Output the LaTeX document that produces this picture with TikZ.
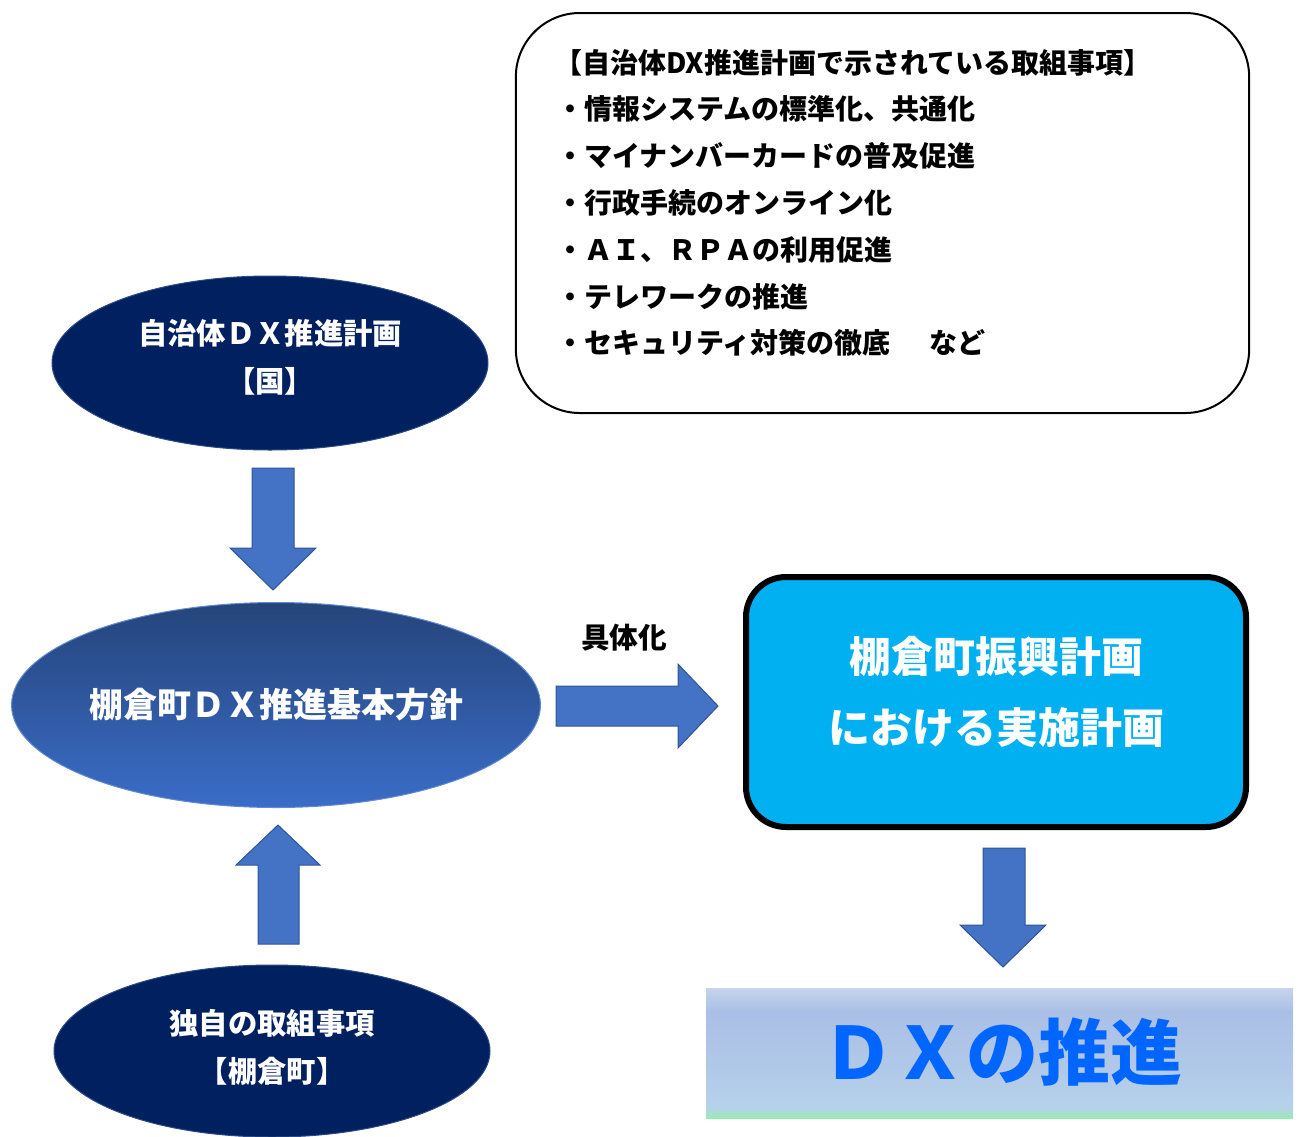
\documentclass[tikz,border=0pt]{standalone}
\usepackage{fontspec}
\newfontfamily\jp{Noto Sans CJK JP}
\usetikzlibrary{shapes.geometric}
\definecolor{navy}{HTML}{002060}
\definecolor{navyedge}{HTML}{2A4A85}
\definecolor{ellTop}{HTML}{25447A}
\definecolor{ellBot}{HTML}{3A6DC8}
\definecolor{arrowFill}{HTML}{4472C4}
\definecolor{arrowEdge}{HTML}{2F5597}
\definecolor{planCyan}{HTML}{00B0F0}
\definecolor{dxBlue}{HTML}{0066FF}
\definecolor{shTop}{HTML}{C6D4EC}
\definecolor{shUp}{HTML}{AABFE6}
\definecolor{shMid}{HTML}{B0C8E8}
\definecolor{shLow}{HTML}{B6D2EA}
\definecolor{shGreen}{HTML}{98ECB0}
\pgfdeclareverticalshading{dxshade}{100bp}{color(0bp)=(shGreen); color(25bp)=(shGreen); color(29bp)=(shLow); color(45bp)=(shMid); color(66bp)=(shUp); color(75bp)=(shTop); color(100bp)=(shTop)}
\tikzset{
  navyell/.style={ellipse, fill=navy, draw=navyedge, line width=0.75pt, inner sep=0pt},
  elltext/.style={text=white, align=center, inner sep=0pt, font=\jp\bfseries\fontsize{22}{36}\selectfont},
  blockarrow/.style={fill=arrowFill, draw=arrowEdge, line width=0.75pt},
  listline/.style={anchor=west, inner sep=0pt, font=\jp\bfseries\fontsize{21}{24}\selectfont}
}
\begin{document}
\begin{tikzpicture}[x=0.75pt,y=-0.75pt]
\useasboundingbox (0,0) rectangle (1302,1136);
% top-right list box
\node (list) [draw=black, line width=1.5pt, rounded corners=48pt, minimum width=550pt, minimum height=300pt] at (882.5,213) {};
\node[listline] (l0) at (554,63) {【自治体DX推進計画で示されている取組事項】};
\node[listline] (l1) at (556,109) {・情報システムの標準化、共通化};
\node[listline] (l2) at (556,156) {・マイナンバーカードの普及促進};
\node[listline] (l3) at (556,203) {・行政手続のオンライン化};
\node[listline] (l4) at (556,250) {・ＡＩ、ＲＰＡの利用促進};
\node[listline] (l5) at (556,297) {・テレワークの推進};
\node[listline] (l6) at (556,343) {・セキュリティ対策の徹底\hspace{1.4em}など};
% ellipses
\node[navyell, minimum width=327pt, minimum height=130.5pt] (kuni) at (270,363) {};
\node[elltext] (kunitext) at (270,357) {自治体ＤＸ推進計画\\【国】};
\node[ellipse, top color=ellTop, bottom color=ellBot, draw=ellBot!80!white, line width=0.75pt,
  minimum width=396pt, minimum height=153.75pt, inner sep=0pt, text=white,
  font=\jp\bfseries\fontsize{25.5}{30}\selectfont] (houshin) at (276,705) {棚倉町ＤＸ推進基本方針};
\node[navyell, minimum width=327pt, minimum height=129pt] (dokuji) at (272,1051) {};
\node[elltext] (dokujitext) at (272,1047) {独自の取組事項\\【棚倉町】};
% arrows
\draw[blockarrow] (252,468) -- (294,468) -- (294,548) -- (316,548) -- (273,590) -- (230,548) -- (252,548) -- cycle;
\draw[blockarrow] (258,944) -- (299,944) -- (299,865) -- (320,865) -- (278,825) -- (236,865) -- (258,865) -- cycle;
\draw[blockarrow] (556,686) -- (678,686) -- (678,664) -- (718,706) -- (678,748) -- (678,726) -- (556,726) -- cycle;
\draw[blockarrow] (983,848) -- (1025,848) -- (1025,925) -- (1046,925) -- (1003,967) -- (960,925) -- (983,925) -- cycle;
\node[inner sep=0pt, font=\jp\bfseries\fontsize{21.5}{24}\selectfont] (gutai) at (624,638) {具体化};
% plan box
\node[draw=black, line width=4.5pt, fill=planCyan, rounded corners=30pt, minimum width=375pt, minimum height=187.5pt] (plan) at (996,702) {};
\node[inner sep=0pt, text=white, align=center, font=\jp\bfseries\fontsize{31.5}{53.25}\selectfont] (plantext) at (996,692) {棚倉町振興計画\\における実施計画};
% DX promotion
\node[rectangle, shading=dxshade, minimum width=440.25pt, minimum height=97.5pt, inner sep=0pt] (suishin) at (999.5,1053) {};
\node[inner sep=0pt, text=dxBlue, font=\jp\bfseries\fontsize{54}{60}\selectfont] (suishintext) at (1002,1052) {ＤＸの推進};
\end{tikzpicture}
\end{document}
